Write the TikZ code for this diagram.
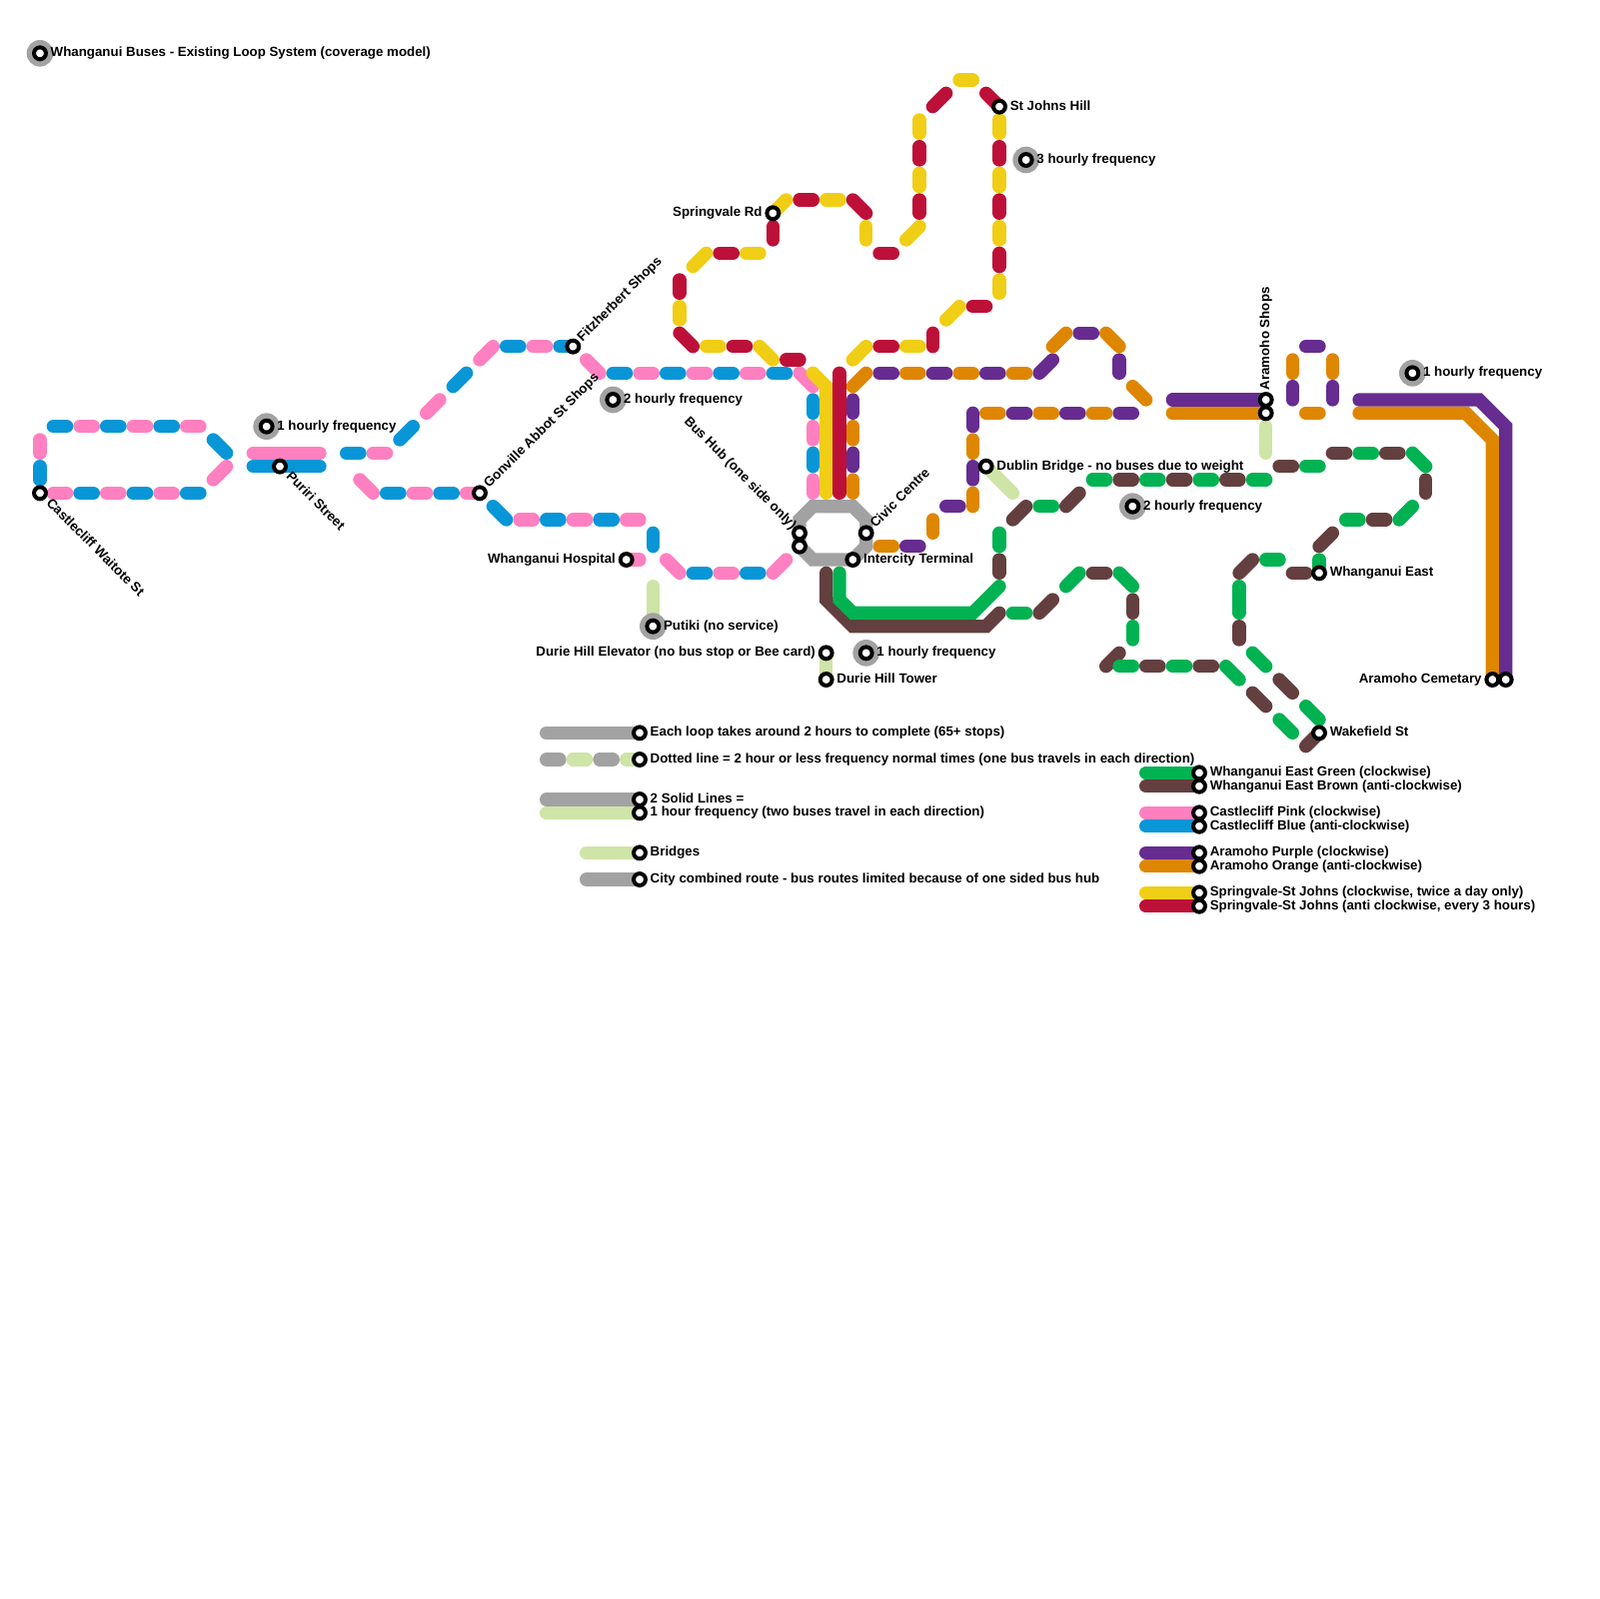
\documentclass[tikz,border=0pt]{standalone}
\usepackage{fontspec}
\setmainfont{Liberation Sans}
\definecolor{cpink}{HTML}{FF80C0}
\definecolor{cblue}{HTML}{0896D7}
\definecolor{cyellow}{HTML}{F0CE15}
\definecolor{ccrimson}{HTML}{BD1038}
\definecolor{corange}{HTML}{DF8600}
\definecolor{cpurple}{HTML}{662C90}
\definecolor{cgreen}{HTML}{00B251}
\definecolor{cbrown}{HTML}{643F3F}
\definecolor{cgrey}{HTML}{A2A2A2}
\definecolor{cbridge}{HTML}{CFE4A7}
\newcommand{\segs}[2]{\foreach \xa/\ya/\xb/\yb in {#2} { \draw [route, #1] (\xa,\ya) -- (\xb,\yb); }}
\tikzset{
  route/.style={line width=2mm, line cap=round},
  stn/.style={circle, draw=black, fill=white, line width=0.6mm, minimum size=1.78mm, inner sep=0pt},
  halo/.style={circle, fill=cgrey, minimum size=4mm, inner sep=0pt},
  txt/.style={inner sep=0pt, text height=4.1pt, text depth=1.1pt, font=\fontsize{5.68}{6.5}\selectfont\bfseries, anchor=west},
  txtl/.style={txt, anchor=east}
}
\begin{document}
\begin{tikzpicture}[x=2mm, y=-2mm]
  \useasboundingbox (0,0) rectangle (120,120);
  \segs{cbrown}{75/42/75/43, 76/39/77/38, 80/38/81/37, 84/36/85/36, 88/36/89/36, 92/36/93/36, 96/35/97/35, 100/34/101/34, 104/34/105/34, 107/36/107/37, 103/39/104/39, 99/41/100/40, 97/43/98/43, 93/43/94/42, 93/47/93/48, 96/51/97/52, 98/56/99/55, 94/52/95/53, 90/50/91/50, 86/50/87/50, 83/50/84/49, 85/45/85/46, 82/43/83/43, 78/46/79/45}
  \segs{cgreen}{75/40/75/41, 78/38/79/38, 82/36/83/36, 86/36/87/36, 90/36/91/36, 94/36/95/36, 98/35/99/35, 102/34/103/34, 106/34/107/35, 105/39/106/38, 101/39/102/39, 99/42/99/43, 95/42/96/42, 93/44/93/46, 94/49/95/50, 98/53/99/54, 96/54/97/55, 92/50/93/51, 88/50/89/50, 84/50/85/50, 85/47/85/48, 84/43/85/44, 80/44/81/43, 76/46/77/46}
  \segs{cpink}{4/37/5/37, 8/37/9/37, 12/37/13/37, 16/36/17/35, 6/32/7/32, 10/32/11/32, 14/32/15/32, 3/33/3/34, 28/34/29/34, 32/31/33/30, 36/27/37/26, 40/26/41/26, 44/27/45/28, 48/28/49/28, 52/28/53/28, 56/28/57/28, 60/28/61/29, 61/32/61/33, 61/36/61/37, 27/36/28/37, 31/37/32/37, 35/37/36/37, 39/39/40/39, 43/39/44/39, 47/39/48/39, 47/42/48/42, 50/42/51/43, 54/43/55/43, 58/43/59/42}
  \segs{cblue}{6/37/7/37, 10/37/11/37, 14/37/15/37, 16/33/17/34, 4/32/5/32, 8/32/9/32, 12/32/13/32, 3/35/3/36, 26/34/27/34, 30/33/31/32, 34/29/35/28, 38/26/39/26, 42/26/43/26, 46/28/47/28, 50/28/51/28, 54/28/55/28, 58/28/59/28, 61/30/61/31, 61/34/61/35, 29/37/30/37, 33/37/34/37, 37/38/38/39, 41/39/42/39, 45/39/46/39, 49/40/49/41, 52/43/53/43, 56/43/57/43}
  \segs{cpurple}{64/30/64/31, 64/34/64/35, 66/28/67/28, 70/28/71/28, 74/28/75/28, 78/28/79/27, 81/25/82/25, 84/27/84/28, 76/31/77/31, 80/31/81/31, 84/31/85/31, 73/31/73/32, 73/35/73/36, 71/38/72/38, 68/41/69/41, 97/29/97/30, 100/29/100/30, 98/26/99/26}
  \segs{corange}{64/29/65/28, 64/32/64/33, 64/36/64/37, 68/28/69/28, 72/28/73/28, 76/28/77/28, 79/26/80/25, 83/25/84/26, 85/29/86/30, 74/31/75/31, 78/31/79/31, 82/31/83/31, 73/33/73/34, 73/37/73/38, 70/39/70/40, 66/41/67/41, 97/27/97/28, 100/27/100/28, 98/31/99/31}
  \segs{cyellow}{64/27/65/26, 68/26/69/26, 71/24/72/23, 75/21/75/22, 75/17/75/18, 75/13/75/14, 75/9/75/10, 72/6/73/6, 69/9/69/10, 69/13/69/14, 68/18/69/17, 65/17/65/18, 62/15/63/15, 58/16/59/15, 56/19/57/19, 52/20/53/19, 51/23/51/24, 53/26/54/26, 57/26/58/27}
  \segs{ccrimson}{66/26/67/26, 70/25/70/26, 73/23/74/23, 75/19/75/20, 75/15/75/16, 75/11/75/12, 74/7/75/8, 70/8/71/7, 69/11/69/12, 69/15/69/16, 66/19/67/19, 64/15/65/16, 60/15/61/15, 58/17/58/18, 54/19/55/19, 51/21/51/22, 51/25/52/26, 55/26/56/26, 59/27/60/27}
  \segs{cbridge}{49/44/49/47, 62/49/62/51, 74/35/76/37, 95/32/95/34, 43/57/44/57, 47/57/48/57, 41/61/48/61, 44/64/48/64}
  \segs{cgrey}{41/55/48/55, 41/57/42/57, 45/57/46/57, 41/60/48/60, 44/66/48/66}
  \segs{cgreen}{86/58/90/58}
  \segs{cbrown}{86/59/90/59}
  \segs{cpink}{19/34/24/34, 86/61/90/61}
  \segs{cblue}{19/35/24/35, 86/62/90/62}
  \segs{cpurple}{88/30/95/30, 86/64/90/64}
  \segs{corange}{88/31/95/31, 86/65/90/65}
  \segs{cyellow}{86/67/90/67}
  \segs{ccrimson}{86/68/90/68}
  \draw [route, cgrey] (61,38) -- (64,38) -- (65,39) -- (65,41) -- (64,42) -- (61,42) -- (60,41) -- (60,39) -- cycle;
  \draw [route, cbrown] (62,43) -- (62,45) -- (64,47) -- (74,47) -- (75,46);
  \draw [route, cgreen] (63,43) -- (63,45) -- (64,46) -- (73,46) -- (75,44);
  \draw [route, cyellow] (61,28) -- (62,29) -- (62,37);
  \draw [route, ccrimson] (63,28) -- (63,37);
  \draw [route, corange] (102,31) -- (110,31) -- (112,33) -- (112,51);
  \draw [route, cpurple] (102,30) -- (111,30) -- (113,32) -- (113,51);
  \foreach \n/\x/\y in {hbuses/3/4, hfreqa/20/32, hfreqb/46/30, hputiki/49/47, hfreqc/65/49, hfreqd/77/12, hfreqe/85/38, hfreqf/106/28} { \node [halo] (\n) at (\x,\y) {}; }
  \foreach \n/\x/\y in {buses/3/4, freqa/20/32, freqb/46/30, putiki/49/47, freqc/65/49, freqd/77/12, freqe/85/38, freqf/106/28, castlecliff/3/37, puriri/21/35, gonville/36/37, fitzherbert/43/26, hospital/47/42, hubup/60/40, hubdown/60/41, civic/65/40, intercity/64/42, elevator/62/49, tower/62/51, springvale/58/16, stjohns/75/8, dublin/74/35, aramohoup/95/30, aramohodown/95/31, wheast/99/43, wakefield/99/55, cemetaryl/112/51, cemetaryr/113/51, keyloop/48/55, keydot/48/57, keysolida/48/60, keysolidb/48/61, keybridge/48/64, keycity/48/66, keygreen/90/58, keybrown/90/59, keypink/90/61, keyblue/90/62, keypurple/90/64, keyorange/90/65, keyyellow/90/67, keycrimson/90/68} { \node [stn] (\n) at (\x,\y) {}; }
  \node [txt] (tbuses) at (3.77,4) {Whanganui Buses - Existing Loop System (coverage model)};
  \node [txt] (tfreqa) at (20.77,32) {1 hourly frequency};
  \node [txt] (tfreqb) at (46.77,30) {2 hourly frequency};
  \node [txt] (tfreqc) at (65.77,49) {1 hourly frequency};
  \node [txt] (tfreqd) at (77.77,12) {3 hourly frequency};
  \node [txt] (tfreqe) at (85.77,38) {2 hourly frequency};
  \node [txt] (tfreqf) at (106.77,28) {1 hourly frequency};
  \node [txt] (tputiki) at (49.77,47) {Putiki (no service)};
  \node [txt, rotate=-45] (tcastlecliff) at (3.6,37.6) {Castlecliff Waitote St};
  \node [txt, rotate=-45] (tpuriri) at (21.6,35.6) {Puriri Street};
  \node [txt, rotate=45] (tgonville) at (36.5,36.5) {Gonville Abbot St Shops};
  \node [txt, rotate=45] (tfitzherbert) at (43.5,25.5) {Fitzherbert Shops};
  \node [txt, rotate=45] (tcivic) at (65.5,39.5) {Civic Centre};
  \node [txtl, rotate=-45] (thub) at (59.6,39.6) {Bus Hub (one side only)};
  \node [txt, rotate=90] (taramoho) at (95,29.3) {Aramoho Shops};
  \node [txtl] (thospital) at (46.23,42) {Whanganui Hospital};
  \node [txtl] (televator) at (61.23,49) {Durie Hill Elevator (no bus stop or Bee card)};
  \node [txtl] (tspringvale) at (57.23,16) {Springvale Rd};
  \node [txtl] (tcemetary) at (111.23,51) {Aramoho Cemetary};
  \node [txt] (tintercity) at (64.77,42) {Intercity Terminal};
  \node [txt] (ttower) at (62.77,51) {Durie Hill Tower};
  \node [txt] (tstjohns) at (75.77,8) {St Johns Hill};
  \node [txt] (tdublin) at (74.77,35) {Dublin Bridge - no buses due to weight};
  \node [txt] (twheast) at (99.77,43) {Whanganui East};
  \node [txt] (twakefield) at (99.77,55) {Wakefield St};
  \node [txt] (tkeyloop) at (48.77,55) {Each loop takes around 2 hours to complete (65+ stops)};
  \node [txt] (tkeydot) at (48.77,57) {Dotted line = 2 hour or less frequency normal times (one bus travels in each direction)};
  \node [txt] (tkeysolida) at (48.77,60) {2 Solid Lines =};
  \node [txt] (tkeysolidb) at (48.77,61) {1 hour frequency (two buses travel in each direction)};
  \node [txt] (tkeybridge) at (48.77,64) {Bridges};
  \node [txt] (tkeycity) at (48.77,66) {City combined route - bus routes limited because of one sided bus hub};
  \node [txt] (tkeygreen) at (90.77,58) {Whanganui East Green (clockwise)};
  \node [txt] (tkeybrown) at (90.77,59) {Whanganui East Brown (anti-clockwise)};
  \node [txt] (tkeypink) at (90.77,61) {Castlecliff Pink (clockwise)};
  \node [txt] (tkeyblue) at (90.77,62) {Castlecliff Blue (anti-clockwise)};
  \node [txt] (tkeypurple) at (90.77,64) {Aramoho Purple (clockwise)};
  \node [txt] (tkeyorange) at (90.77,65) {Aramoho Orange (anti-clockwise)};
  \node [txt] (tkeyyellow) at (90.77,67) {Springvale-St Johns (clockwise, twice a day only)};
  \node [txt] (tkeycrimson) at (90.77,68) {Springvale-St Johns (anti clockwise, every 3 hours)};
\end{tikzpicture}
\end{document}
